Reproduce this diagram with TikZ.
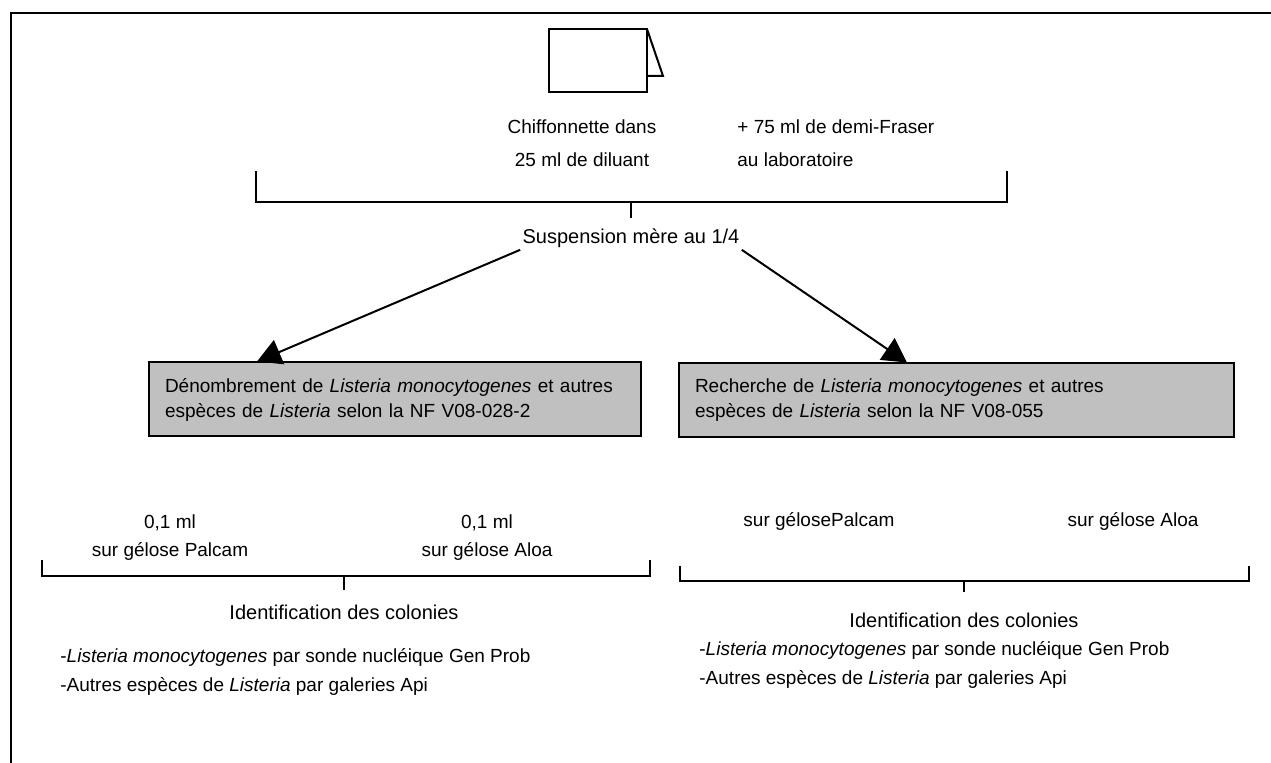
\documentclass[tikz,border=0pt]{standalone}
\usepackage{fontspec}
\setmainfont{Liberation Sans}
\usetikzlibrary{arrows.meta}
\definecolor{gris}{HTML}{C0C0C0}

\begin{document}
\begin{tikzpicture}[x=0.5pt,y=-0.5pt,
    txt/.style={font=\fontsize{9.5}{14}\selectfont, inner sep=1pt},
    grisbox/.style={draw, line width=1pt, fill=gris, align=left,
      font=\fontsize{9.5}{12.5}\selectfont, inner xsep=8pt, minimum height=37pt},
    trait/.style={line width=1pt}]
    \useasboundingbox (0,0) rectangle (1271,763);
    %% Draw the frame and the wipe
    \draw[trait] (1271,13) -- (11,13) -- (11,763);
    \draw[trait] (549,29) rectangle (647,92);
    \draw[trait] (647,29) -- (663,76) -- (647,76);
    %% Draw the texts
    \node[txt, align=center, font=\fontsize{9.5}{16.5}\selectfont] (C) at (582,143.5)
      {Chiffonnette dans\\25 ml de diluant};
    \node[txt, align=left, anchor=west, font=\fontsize{9.5}{16.5}\selectfont] (F) at (735,143.5)
      {+ 75 ml de demi-Fraser\\au laboratoire};
    \node[txt, font=\fontsize{10}{14}\selectfont] (S) at (631,238) {Suspension mère au 1/4};
    %% Draw the two boxes
    \node[grisbox, text width=230pt] (L) at (395,399.5)
      {Dénombrement de \textit{Listeria monocytogenes} et autres\\
       espèces de \textit{Listeria} selon la NF V08-028-2};
    \node[grisbox, text width=261.5pt] (R) at (956.5,400.5)
      {Recherche de \textit{Listeria monocytogenes} et autres\\
       espèces de \textit{Listeria} selon la NF V08-055};
    %% Draw the media
    \node[txt, align=center] (LP) at (170,538) {0,1 ml\\sur gélose Palcam};
    \node[txt, align=center] (LA) at (487,538) {0,1 ml\\sur gélose Aloa};
    \node[txt] (RP) at (819,521) {sur gélosePalcam};
    \node[txt] (RA) at (1133,521) {sur gélose Aloa};
    \node[txt, font=\fontsize{10}{14}\selectfont] (LI) at (344,612) {Identification des colonies};
    \node[txt, font=\fontsize{10}{14}\selectfont] (RI) at (964,620) {Identification des colonies};
    \node[txt, align=left, anchor=west, font=\fontsize{9.5}{14.5}\selectfont] (LT) at (58,671.5)
      {-\textit{Listeria monocytogenes} par sonde nucléique Gen Prob\\
       -Autres espèces de \textit{Listeria} par galeries Api};
    \node[txt, align=left, anchor=west, font=\fontsize{9.5}{14.5}\selectfont] (RT) at (697,664.5)
      {-\textit{Listeria monocytogenes} par sonde nucléique Gen Prob\\
       -Autres espèces de \textit{Listeria} par galeries Api};
    %% Draw the brackets
    \draw[trait] (256,171) -- (256,202) -- (1007,202) -- (1007,171);
    \draw[trait] (631,202) -- (631,218);
    \draw[trait] (42,560) -- (42,576) -- (650,576) -- (650,560);
    \draw[trait] (344,576) -- (344,590);
    \draw[trait] (680,566) -- (680,581) -- (1249,581) -- (1249,566);
    \draw[trait] (964,581) -- (964,592);
    %% Draw the arrows
    \begin{scope}[every path/.style={line width=1pt, -{Triangle[length=12pt,width=13pt]}}]
      \draw (S.south west) -- ([xshift=54.5pt]L.north west);
      \draw (S.south east) -- ([xshift=114.5pt]R.north west);
    \end{scope}
  \end{tikzpicture}
\end{document}
